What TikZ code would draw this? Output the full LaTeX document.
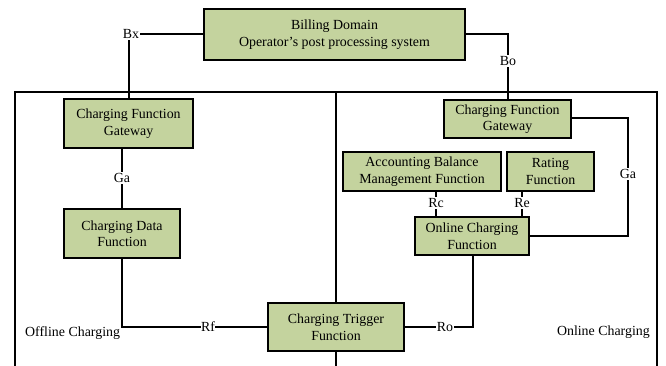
\documentclass[tikz,border=0pt]{standalone}
\usepackage{fontspec}
\setmainfont{Liberation Serif}
\begin{document}
\begin{tikzpicture}[x=1pt,y=-1pt,
  fbox/.style={draw=black,line width=1.7pt,fill=boxgreen,inner sep=0pt,align=center,font=\fontsize{13.9}{16.5}\selectfont},
  wire/.style={line width=1.4pt},
  lbl/.style={fill=white,inner sep=1pt,font=\fontsize{13.9}{16.5}\selectfont},
  plain/.style={inner sep=0pt,font=\fontsize{13.9}{16.5}\selectfont}]
\definecolor{boxgreen}{RGB}{196,211,158}
\useasboundingbox (0,0) rectangle (666,365);
% outer frame
\draw[wire] (15,370) -- (15,92) -- (657,92) -- (657,370);
\coordinate (mtop) at (336,92);
\coordinate (mbot) at (336,370);
% boxes
\node[fbox,minimum width=261pt,minimum height=51pt] (bd) at (334.5,34.5) {Billing Domain\\Operator’s post processing system};
\node[fbox,minimum width=129pt,minimum height=49pt] (cfgl) at (128.5,123.5) {Charging Function\\Gateway};
\node[fbox,minimum width=127pt,minimum height=38pt] (cfgr) at (507.5,119) {Charging Function\\Gateway};
\node[fbox,minimum width=116pt,minimum height=49pt] (cdf) at (122,233.5) {Charging Data\\Function};
\node[fbox,minimum width=136pt,minimum height=48pt] (ctf) at (336,327) {Charging Trigger\\Function};
\node[fbox,minimum width=158pt,minimum height=39pt] (abmf) at (422,171.5) {Accounting Balance\\Management Function};
\node[fbox,minimum width=87pt,minimum height=39pt] (rf) at (550.5,171.5) {Rating\\Function};
\node[fbox,minimum width=114pt,minimum height=38pt] (ocf) at (472,236) {Online Charging\\Function};
% middle divider
\draw[wire] (mtop) -- (ctf.north);
\draw[wire] (ctf.south) -- (mbot);
% Bx
\coordinate (bxc) at (129,34);
\draw[wire] (bd.west |- bxc) -- (bxc) -- (cfgl.north -| bxc);
\node[lbl] (bx) at (131,34) {Bx};
% Bo
\coordinate (boc) at (508,34);
\draw[wire] (bd.east |- boc) -- (boc) -- (cfgr.north -| boc);
\node[lbl] (bo) at (508,61) {Bo};
% Ga left
\draw[wire] (cfgl.south -| 122,0) -- (cdf.north);
\node[lbl] (gal) at (122,178) {Ga};
% Rf
\coordinate (rfc) at (122,327);
\draw[wire] (cdf.south) -- (rfc) -- (ctf.west);
\node[lbl,inner sep=0.5pt] (rflab) at (208,327) {Rf};
% Ro
\coordinate (roc) at (473,327);
\draw[wire] (ctf.east) -- (roc) -- (ocf.south -| roc);
\node[lbl,inner sep=0.5pt] (rolab) at (445,327) {Ro};
% Rc, Re
\draw[wire] (abmf.south -| 436,0) -- (ocf.north -| 436,0);
\node[lbl] (rc) at (436,203) {Rc};
\draw[wire] (rf.south -| 522,0) -- (ocf.north -| 522,0);
\node[lbl] (re) at (522,203) {Re};
% Ga right
\coordinate (gar1) at (628,118);
\coordinate (gar2) at (628,236);
\draw[wire] (cfgr.east |- gar1) -- (gar1) -- (gar2) -- (ocf.east |- gar2);
\node[lbl] (gar) at (628,174) {Ga};
% region labels
\node[plain,anchor=west] (off) at (25,333) {Offline Charging};
\node[plain,anchor=east] (on) at (650,332) {Online Charging};
\end{tikzpicture}
\end{document}
